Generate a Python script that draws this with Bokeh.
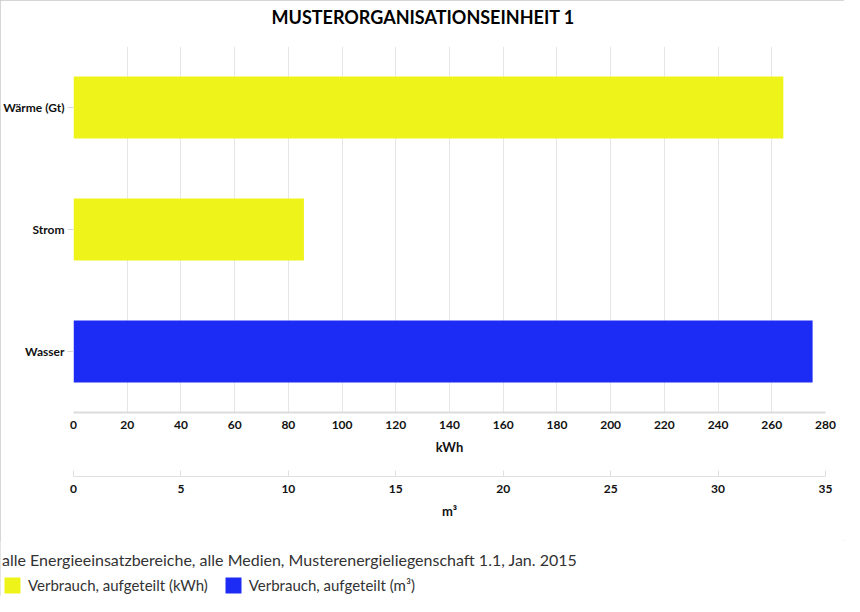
from bokeh.plotting import figure
from bokeh.layouts import column
from bokeh.models import (FactorRange, Range1d, LinearAxis, FixedTicker,
                          Legend, LegendItem, Title)
from bokeh.embed import file_html
from bokeh.resources import INLINE

title_text = "MUSTERORGANISATIONSEINHEIT 1"
subtitle_text = "alle Energieeinsatzbereiche, alle Medien, Musterenergieliegenschaft 1.1, Jan. 2015"

# categories from bottom to top
categories = ["Wasser", "Strom", "Wärme (Gt)"]

kwh_media = ["Wärme (Gt)", "Strom"]
kwh_values = [264.3, 85.8]
m3_media = ["Wasser"]
m3_values = [34.4]

kwh_ticks = [0, 20, 40, 60, 80, 100, 120, 140, 160, 180, 200, 220, 240, 260, 280]
m3_ticks = [0, 5, 10, 15, 20, 25, 30, 35]

series_labels = ["Verbrauch, aufgeteilt (kWh)", "Verbrauch, aufgeteilt (m³)"]

FONT = "Lato"
YELLOW = "#EEF31A"
BLUE = "#1C2CF5"

p = figure(width=844, height=540,
           y_range=FactorRange(factors=categories, range_padding=0),
           x_range=Range1d(0, 280),
           output_backend="svg", toolbar_location=None,
           min_border_left=73, min_border_right=19,
           min_border_top=46, min_border_bottom=128)
p.extra_x_ranges = {"m3": Range1d(0, 35)}
p.outline_line_color = None

# title, roughly centred over the whole chart
p.title.text = title_text
p.title.align = "left"
p.title.offset = 198
p.title.standoff = 4
p.title.text_font = FONT
p.title.text_font_style = "bold"
p.title.text_font_size = "18px"
p.title.text_color = "#000000"
# spacer between title and plot area
p.add_layout(Title(text=" ", text_font_size="10px", standoff=4), "above")

p.hbar(y=kwh_media, left=0, right=kwh_values, height=0.51,
       fill_color=YELLOW, line_color=None)
p.hbar(y=m3_media, left=0, right=m3_values, height=0.51,
       fill_color=BLUE, line_color=None, x_range_name="m3")

# grid
p.ygrid.grid_line_color = None
p.xgrid.ticker = FixedTicker(ticks=kwh_ticks)
p.xgrid.grid_line_color = "#e6e6e6"

# category axis
ya = p.yaxis[0]
ya.axis_line_color = None
ya.major_tick_out = 6
ya.major_tick_in = 0
ya.major_tick_line_color = "#d8d8d8"
ya.major_label_standoff = 3
ya.major_label_text_font = FONT
ya.major_label_text_font_style = "bold"
ya.major_label_text_font_size = "12px"
ya.major_label_text_color = "#111111"

# kWh axis
xa = p.xaxis[0]
xa.ticker = FixedTicker(ticks=kwh_ticks)
xa.axis_label = "kWh"
xa.axis_line_color = "#dcdcdc"
xa.axis_line_width = 2
xa.major_tick_out = 0
xa.major_tick_in = 0
xa.minor_tick_out = 0
xa.minor_tick_in = 0
xa.major_label_standoff = 8
xa.axis_label_standoff = 7

# spacer between the two axes
p.add_layout(Title(text=" ", text_font_size="10px", standoff=6), "below")

m3_axis = LinearAxis(x_range_name="m3", ticker=FixedTicker(ticks=m3_ticks),
                     axis_label="m³")
m3_axis.axis_line_color = "#e0e0e0"
m3_axis.major_tick_in = 6
m3_axis.major_tick_out = 0
m3_axis.minor_tick_in = 0
m3_axis.minor_tick_out = 0
m3_axis.major_tick_line_color = "#e0e0e0"
m3_axis.major_label_standoff = 8
m3_axis.axis_label_standoff = 7
p.add_layout(m3_axis, "below")

for ax in (xa, m3_axis):
    ax.major_label_text_font = FONT
    ax.major_label_text_font_style = "bold"
    ax.major_label_text_font_size = "12px"
    ax.major_label_text_color = "#111111"
    ax.axis_label_text_font = FONT
    ax.axis_label_text_font_style = "bold"
    ax.axis_label_text_font_size = "13px"
    ax.axis_label_text_color = "#111111"

# strip below the chart: subtitle and legend
leg = figure(width=844, height=56, x_range=Range1d(0, 1), y_range=Range1d(0, 1),
             x_axis_type=None, y_axis_type=None,
             output_backend="svg", toolbar_location=None,
             min_border=0, min_border_left=0, min_border_right=0,
             min_border_top=0, min_border_bottom=0)
leg.frame_align = False
leg.outline_line_color = None
leg.grid.visible = False
# hidden copies of the series, only used for the legend swatches
k_kwh = leg.hbar(y=list(range(len(kwh_values))), left=0, right=kwh_values,
                 height=0.5, fill_color=YELLOW, line_color=None, visible=False)
k_m3 = leg.hbar(y=list(range(len(m3_values))), left=0, right=m3_values,
                height=0.5, fill_color=BLUE, line_color=None, visible=False)

legend = Legend(items=[LegendItem(label=series_labels[0], renderers=[k_kwh]),
                       LegendItem(label=series_labels[1], renderers=[k_m3])],
                orientation="horizontal", location=(2, 1))
legend.title = subtitle_text
legend.title_text_font = FONT
legend.title_text_font_style = "normal"
legend.title_text_font_size = "16px"
legend.title_text_color = "#333333"
legend.title_standoff = 6
legend.padding = 0
legend.margin = 0
legend.border_line_color = None
legend.background_fill_alpha = 0
legend.inactive_fill_alpha = 0
legend.glyph_width = 20
legend.glyph_height = 20
legend.label_height = 20
legend.label_standoff = 6
legend.spacing = 15
legend.label_text_font = FONT
legend.label_text_font_size = "15px"
legend.label_text_color = "#333333"
leg.add_layout(legend)

layout = column(p, leg, spacing=0)
layout.styles = {"outline": "1px solid #c8c8c8", "outline-offset": "-1px"}

open("out.html", "w").write(file_html(layout, INLINE))
